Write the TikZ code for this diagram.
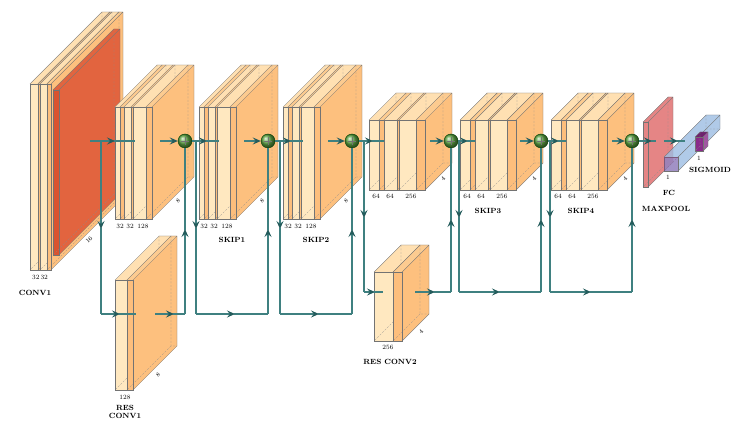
\documentclass[tikz,border=0pt]{standalone}
\usetikzlibrary{arrows.meta}
\definecolor{lt}{HTML}{FFE8C0}
\definecolor{dk}{HTML}{FDBE7C}
\definecolor{topl}{HTML}{FFE0B2}
\definecolor{topd}{HTML}{FCCB90}
\definecolor{side}{HTML}{FDC07E}
\definecolor{redf}{HTML}{D9532F}
\definecolor{reds}{HTML}{E2643F}
\definecolor{pinkc}{HTML}{E07070}
\definecolor{bluec}{HTML}{9CBDE2}
\definecolor{purp}{HTML}{8A2A8A}
\definecolor{teal}{HTML}{3F8080}
\definecolor{tealdk}{HTML}{245C5C}
\definecolor{sumg}{HTML}{5FA845}
\tikzset{
 edge/.style={draw=black!55,line width=0.35pt},
 hid/.style={draw=black!45,dashed,line width=0.3pt,dash pattern=on 2pt off 1.5pt},
 conn/.style={draw=teal,line width=1.1pt},
 tip/.style={-{Stealth[length=8pt,width=7pt,inset=3pt,color=tealdk]}},
 num/.style={font=\fontsize{6.5}{7}\selectfont,inner sep=0pt},
 dnum/.style={font=\fontsize{6}{7}\selectfont,inner sep=0pt,rotate=45},
 lab/.style={font=\fontsize{7.5}{8}\selectfont\bfseries,inner sep=0pt},
 sum/.style={circle,inner sep=0pt,minimum size=14pt,ball color=sumg,draw=green!25!black}
}
% \cube{x}{ytop}{w}{h}{d}{front}{top}{side}{opacity}
\newcommand{\cube}[9]{%
 \fill[#6,fill opacity=#9] (#1,#2) rectangle ({#1+#3},{#2+#4});
 \fill[#7,fill opacity=#9] (#1,#2)--({#1+#5},{#2-#5})--({#1+#3+#5},{#2-#5})--({#1+#3},#2)--cycle;
 \fill[#8,fill opacity=#9] ({#1+#3},#2)--({#1+#3+#5},{#2-#5})--({#1+#3+#5},{#2+#4-#5})--({#1+#3},{#2+#4})--cycle;
 \draw[hid] ({#1+#5},{#2-#5})--({#1+#5},{#2+#4-#5})--({#1+#3+#5},{#2+#4-#5}) ({#1+#5},{#2+#4-#5})--(#1,{#2+#4});
 \draw[edge] (#1,#2) rectangle ({#1+#3},{#2+#4});
 \draw[edge] (#1,#2)--({#1+#5},{#2-#5})--({#1+#3+#5},{#2-#5})--({#1+#3+#5},{#2+#4-#5})--({#1+#3},{#2+#4}) ({#1+#3},#2)--({#1+#3+#5},{#2-#5});
}
% \slab{x}{ytop}{wlight}{wdark}{h}{d}
\newcommand{\slab}[6]{%
 \cube{#1}{#2}{#3}{#5}{#6}{lt}{topl}{side}{1}
 \cube{#1+#3}{#2}{#4}{#5}{#6}{dk}{topd}{side}{1}
}
\newcommand{\blockA}[1]{% stage-1 block at x
 \slab{#1}{107}{5}{4}{112}{42}
 \slab{#1+9}{107}{7}{2}{112}{42}
 \slab{#1+18}{107}{13}{6}{112}{42}
}
\newcommand{\blockB}[1]{% stage-3 block at x
 \slab{#1}{120}{10}{5}{70}{27}
 \slab{#1+15}{120}{13}{2}{70}{27}
 \slab{#1+30}{120}{17}{9}{70}{27}
}
\begin{document}
\begin{tikzpicture}[x=1pt,y=-1pt]
\useasboundingbox (0,0) rectangle (736,435);
% CONV1
\slab{30}{84}{8}{2}{186}{72}
\slab{40}{84}{7}{4}{186}{72}
\cube{53}{90}{6}{165}{61}{redf}{reds}{reds}{1}
\node[num] (n0) at (40,277) {32\,32};
\node[dnum] (d0) at (89,240) {16};
\node[lab] (l0) at (35,293) {CONV1};
% stage 1 blocks
\blockA{115}\blockA{199}\blockA{283}
\foreach \x/\i in {115/1,199/2,283/3}{
 \node[num] at (\x+5,226) {32};
 \node[num] at (\x+15,226) {32};
 \node[num] at (\x+28,226) {128};
 \node[dnum] at (\x+63,201) {8};
}
\node[lab] (k1) at (232,240) {SKIP1};
\node[lab] (k2) at (316,240) {SKIP2};
% res conv1
\slab{115}{280}{12}{6}{110}{44}
\node[num] (n1) at (125,397) {128};
\node[lab,align=center] (l1) at (125,412) {RES\\CONV1};
\node[dnum] at (158,375) {8};
% stage 3 blocks
\blockB{369}\blockB{460}\blockB{551}
\foreach \x in {369,460,551}{
 \node[num] at (\x+7,196) {64};
 \node[num] at (\x+21,196) {64};
 \node[num] at (\x+42,196) {256};
 \node[dnum] at (\x+74,179) {4};
}
\node[lab] (k3) at (488,211) {SKIP3};
\node[lab] (k4) at (581,211) {SKIP4};
% res conv2
\slab{374}{272}{19}{9}{69}{27}
\node[num] (n2) at (388,347) {256};
\node[lab] (l2) at (390,362) {RES CONV2};
\node[dnum] at (421,332) {4};
% maxpool, fc, sigmoid
\cube{643}{122}{5}{65}{25}{pinkc}{pinkc}{pinkc}{0.85}
\cube{664}{157}{14}{14}{42}{bluec}{bluec}{bluec}{0.8}
\fill[purp,opacity=0.35] (664,157) rectangle (678,171);
\cube{695}{137}{8}{14}{5}{purp}{purp!80!black}{purp!80}{1}
\node[num] at (668,177) {1};
\node[num] at (699,158) {1};
\node[lab] (l3) at (710,170) {SIGMOID};
\node[lab] (l4) at (669,193) {FC};
\node[lab] (l5) at (666,209) {MAXPOOL};
% sum nodes
\foreach \i/\x in {1/185,2/268,3/352,4/451,5/541,6/632}{
 \node[sum] (s\i) at (\x,141) {};
}
% connectors
\coordinate (c0) at (90,141);
\draw[conn,tip] (c0)--(115,141); \draw[conn] (114,141)--(135,141);
\draw[conn,tip] (101,141)--(101,229); \draw[conn] (101,228)--(101,314);
\draw[conn,tip] (101,314)--(120,314); \draw[conn] (119,314)--(136,314);
\draw[conn,tip] (155,314)--(174,314); \draw[conn] (173,314)--(185,314);
\draw[conn,tip] (185,314)--(185,229); \draw[conn] (185,230)--(s1);
\draw[conn,tip] (160,141)--(s1);
% skip1
\draw[conn,tip] (s1)--(207,141); \draw[conn] (206,141)--(219,141);
\draw[conn,tip] (196,141)--(196,229); \draw[conn] (196,228)--(196,314);
\draw[conn,tip] (196,314)--(235,314); \draw[conn] (234,314)--(268,314);
\draw[conn,tip] (268,314)--(268,229); \draw[conn] (268,230)--(s2);
\draw[conn,tip] (244,141)--(s2);
% skip2
\draw[conn,tip] (s2)--(291,141); \draw[conn] (290,141)--(303,141);
\draw[conn,tip] (280,141)--(280,229); \draw[conn] (280,228)--(280,314);
\draw[conn,tip] (280,314)--(319,314); \draw[conn] (318,314)--(352,314);
\draw[conn,tip] (352,314)--(352,229); \draw[conn] (352,230)--(s3);
\draw[conn,tip] (328,141)--(s3);
% res conv2
\draw[conn,tip] (s3)--(373,141); \draw[conn] (372,141)--(384,141);
\draw[conn,tip] (364,141)--(364,218); \draw[conn] (364,217)--(364,292);
\draw[conn,tip] (364,292)--(375,292); \draw[conn] (374,292)--(383,292);
\draw[conn,tip] (415,292)--(435,292); \draw[conn] (434,292)--(451,292);
\draw[conn,tip] (451,292)--(451,219); \draw[conn] (451,220)--(s4);
\draw[conn,tip] (430,141)--(s4);
% skip3
\draw[conn,tip] (s4)--(468,141); \draw[conn] (467,141)--(475,141);
\draw[conn,tip] (459,141)--(459,218); \draw[conn] (459,217)--(459,292);
\draw[conn,tip] (459,292)--(500,292); \draw[conn] (499,292)--(541,292);
\draw[conn,tip] (541,292)--(541,219); \draw[conn] (541,220)--(s5);
\draw[conn,tip] (520,141)--(s5);
% skip4
\draw[conn,tip] (s5)--(559,141); \draw[conn] (558,141)--(566,141);
\draw[conn,tip] (550,141)--(550,218); \draw[conn] (550,217)--(550,292);
\draw[conn,tip] (550,292)--(591,292); \draw[conn] (590,292)--(632,292);
\draw[conn,tip] (632,292)--(632,219); \draw[conn] (632,220)--(s6);
\draw[conn,tip] (612,141)--(s6);
% to output
\draw[conn,tip] (s6)--(652,141); \draw[conn] (651,141)--(656,141);
\draw[conn,tip] (664,141)--(678,141); \draw[conn] (677,141)--(685,141);
% plus signs
\foreach \i in {1,...,6}{
 \draw[black!55,line width=0.5pt] ([xshift=-4pt]s\i.center)--([xshift=4pt]s\i.center) ([yshift=-4pt]s\i.center)--([yshift=4pt]s\i.center);
}
\end{tikzpicture}
\end{document}
